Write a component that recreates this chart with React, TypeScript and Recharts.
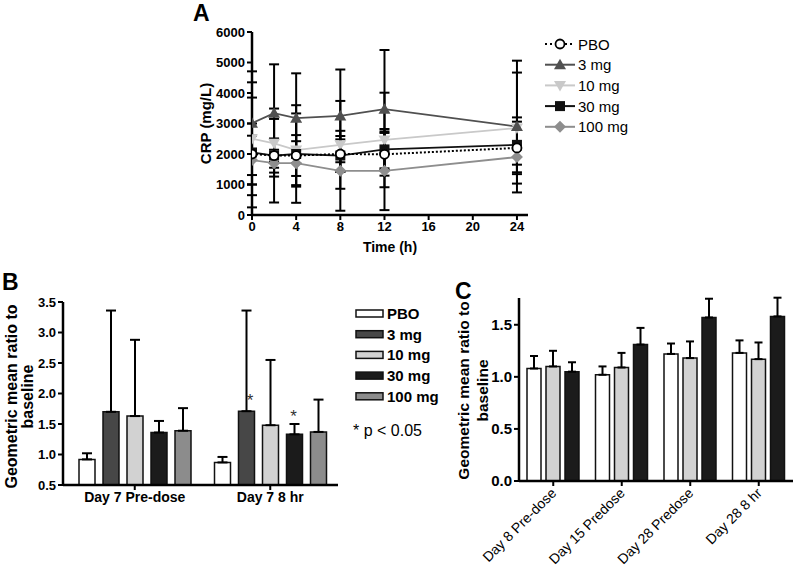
import React from 'react';
import { LineChart, Line, BarChart, Bar, XAxis, YAxis, ErrorBar, LabelList } from 'recharts';

const FONT = '"Liberation Sans", Arial, Helvetica, sans-serif';

// ---- Panel A: CRP (mg/L) over time, mean +/- SD ----
const hours = [0, 2, 4, 8, 12, 24];
const crpPbo = [2000, 1950, 1950, 2000, 1990, 2200];
const sdPbo = [1000, 560, 670, 590, 700, 860];
const crp3 = [3010, 3340, 3175, 3250, 3470, 2900];
const sd3 = [1700, 1600, 1470, 1520, 1940, 2160];
const crp10 = [2500, 2350, 2130, 2300, 2460, 2850];
const sd10 = [1850, 800, 1200, 1440, 1550, 1820];
const crp30 = [2050, 1950, 2000, 1950, 2150, 2300];
const sd30 = [1800, 1540, 1600, 530, 670, 900];
const crp100 = [1800, 1700, 1700, 1450, 1450, 1900];
const sd100 = [800, 440, 720, 1310, 1290, 250];
const ticksHours = [0, 4, 8, 12, 16, 20, 24];
const ticksCrp = [0, 1000, 2000, 3000, 4000, 5000, 6000];

// ---- Panel B: Day 7 ratio to baseline (upper error only) ----
const daysB = ['Day 7 Pre-dose', 'Day 7 8 hr'];
const ratioPboB = [0.92, 0.87];
const upperPboB = [1.02, 0.96];
const ratio3B = [1.70, 1.71];
const upper3B = [3.36, 3.36];
const ratio10B = [1.63, 1.48];
const upper10B = [2.88, 2.55];
const ratio30B = [1.36, 1.33];
const upper30B = [1.55, 1.50];
const ratio100B = [1.39, 1.37];
const upper100B = [1.76, 1.90];
const sig3B = [false, true];
const sig30B = [false, true];
const ticksB = [0.5, 1.0, 1.5, 2.0, 2.5, 3.0, 3.5];

// ---- Panel C: later days ----
const daysC = ['Day 8 Pre-dose', 'Day 15 Predose', 'Day 28 Predose', 'Day 28 8 hr'];
const ratioPboC = [1.08, 1.02, 1.22, 1.23];
const upperPboC = [1.20, 1.10, 1.32, 1.35];
const ratio10C = [1.10, 1.09, 1.18, 1.17];
const upper10C = [1.25, 1.23, 1.34, 1.33];
const ratio30C = [1.05, 1.31, 1.57, 1.58];
const upper30C = [1.14, 1.47, 1.75, 1.76];
const ticksC = [0, 0.5, 1.0, 1.5];

const dataA = hours.map((t, i) => ({
  t,
  pbo: crpPbo[i], pboSd: sdPbo[i],
  mg3: crp3[i], mg3Sd: sd3[i],
  mg10: crp10[i], mg10Sd: sd10[i],
  mg30: crp30[i], mg30Sd: sd30[i],
  mg100: crp100[i], mg100Sd: sd100[i],
}));

const dataB = daysB.map((day, i) => ({
  day,
  pbo: ratioPboB[i], pboErr: [0, upperPboB[i] - ratioPboB[i]],
  mg3: ratio3B[i], mg3Err: [0, upper3B[i] - ratio3B[i]],
  mg10: ratio10B[i], mg10Err: [0, upper10B[i] - ratio10B[i]],
  mg30: ratio30B[i], mg30Err: [0, upper30B[i] - ratio30B[i]],
  mg100: ratio100B[i], mg100Err: [0, upper100B[i] - ratio100B[i]],
}));

const dataC = daysC.map((day, i) => ({
  day,
  pbo: ratioPboC[i], pboErr: [0, upperPboC[i] - ratioPboC[i]],
  mg10: ratio10C[i], mg10Err: [0, upper10C[i] - ratio10C[i]],
  mg30: ratio30C[i], mg30Err: [0, upper30C[i] - ratio30C[i]],
}));

// line styles for panel A
const LINE_A = [
  { key: 'mg10', name: '10 mg', color: '#c9c9c9', shape: 'down' },
  { key: 'mg100', name: '100 mg', color: '#8e8e8e', shape: 'diamond' },
  { key: 'mg3', name: '3 mg', color: '#505050', shape: 'up' },
  { key: 'mg30', name: '30 mg', color: '#111111', shape: 'square' },
  { key: 'pbo', name: 'PBO', color: '#000000', shape: 'circle' },
];
const LEGEND_A = ['pbo', 'mg3', 'mg10', 'mg30', 'mg100'];

const BAR_FILL: Record<string, string> = {
  pbo: '#ffffff',
  mg3: '#474747',
  mg10: '#d2d2d2',
  mg30: '#1b1b1b',
  mg100: '#8c8c8c',
};
const BAR_NAME: Record<string, string> = {
  pbo: 'PBO', mg3: '3 mg', mg10: '10 mg', mg30: '30 mg', mg100: '100 mg',
};

const Marker = ({ cx, cy, shape, fill }: any) => {
  if (cx == null || cy == null) return null;
  switch (shape) {
    case 'circle':
      return <circle cx={cx} cy={cy} r={4.5} fill="#fff" stroke="#000" strokeWidth={1.8} />;
    case 'up':
      return <polygon points={`${cx},${cy - 6} ${cx - 6},${cy + 4.5} ${cx + 6},${cy + 4.5}`} fill={fill} />;
    case 'down':
      return <polygon points={`${cx},${cy + 6} ${cx - 6},${cy - 4.5} ${cx + 6},${cy - 4.5}`} fill={fill} />;
    case 'square':
      return <rect x={cx - 5} y={cy - 5} width={10} height={10} fill={fill} />;
    case 'diamond':
      return <polygon points={`${cx},${cy - 6} ${cx + 6},${cy} ${cx},${cy + 6} ${cx - 6},${cy}`} fill={fill} />;
    default:
      return null;
  }
};

// rotated (possibly two-line) axis title
const RotatedLabel = ({ viewBox, lines, xs, size, dy = 0 }: any) => {
  const cy = viewBox.y + viewBox.height / 2 + dy;
  return (
    <g>
      {lines.map((l: string, i: number) => (
        <text
          key={i}
          x={xs[i]}
          y={cy}
          transform={`rotate(-90, ${xs[i]}, ${cy})`}
          textAnchor="middle"
          dominantBaseline="central"
          fontFamily={FONT}
          fontWeight="bold"
          fontSize={size}
          fill="#000"
        >
          {l}
        </text>
      ))}
    </g>
  );
};

const SlantTick = ({ x, y, payload }: any) => (
  <text
    x={x + 4}
    y={y + 6}
    transform={`rotate(-45, ${x + 4}, ${y + 6})`}
    textAnchor="end"
    fontFamily={FONT}
    fontSize={14}
    fill="#000"
  >
    {payload.value}
  </text>
);

const starLabel = (flags: boolean[], dx: number, dy: number) => (p: any) => {
  const { x, y, width, index } = p;
  if (!flags[index]) return null;
  return (
    <text x={x + width / 2 + dx} y={y - dy} textAnchor="middle" fontFamily={FONT} fontSize={17} fill="#333">
      *
    </text>
  );
};

const axisLine = { stroke: '#000', strokeWidth: 2.5 };
const tickLine = { stroke: '#000', strokeWidth: 2 };

export default function App() {
  return (
    <div style={{ position: 'absolute', left: 0, top: 0, width: 796, height: 573, background: '#fff', fontFamily: FONT }}>
      {/* Panel A */}
      <div style={{ position: 'absolute', left: 190, top: 20 }}>
        <LineChart width={350} height={240} data={dataA} margin={{ top: 12, right: 12, left: 0, bottom: 0 }}>
          <XAxis
            dataKey="t"
            type="number"
            domain={[0, 25]}
            ticks={ticksHours}
            allowDataOverflow
            height={45}
            axisLine={axisLine}
            tickLine={tickLine}
            tickSize={5}
            tick={{ fill: '#000', fontSize: 13, fontWeight: 'bold', fontFamily: FONT }}
            label={{ value: 'Time (h)', position: 'insideBottom', offset: 8, fill: '#000', fontSize: 14, fontWeight: 'bold', fontFamily: FONT }}
          />
          <YAxis
            type="number"
            domain={[0, 6000]}
            ticks={ticksCrp}
            width={62}
            axisLine={axisLine}
            tickLine={tickLine}
            tickSize={5}
            tick={{ fill: '#000', fontSize: 13, fontWeight: 'bold', fontFamily: FONT }}
            label={<RotatedLabel lines={['CRP (mg/L)']} xs={[15]} size={15} />}
          />
          {LINE_A.map((s) => (
            <Line
              key={s.key}
              dataKey={s.key}
              name={s.name}
              stroke={s.color}
              strokeWidth={s.key === 'pbo' ? 2 : 1.8}
              strokeDasharray={s.key === 'pbo' ? '2 2' : undefined}
              isAnimationActive={false}
              dot={(p: any) => <Marker key={`${s.key}-${p.index}`} cx={p.cx} cy={p.cy} shape={s.shape} fill={s.color} />}
              activeDot={false}
            >
              <ErrorBar dataKey={`${s.key}Sd`} width={5} stroke="#000" strokeWidth={2} direction="y" />
            </Line>
          ))}
        </LineChart>
      </div>

      {/* Panel B */}
      <div style={{ position: 'absolute', left: 0, top: 260 }}>
        <BarChart width={345} height={250} data={dataB} margin={{ top: 42, right: 7, left: 0, bottom: 0 }} barSize={16} barGap={8}>
          <XAxis
            dataKey="day"
            height={25}
            padding={{ left: 4, right: 0 }}
            axisLine={axisLine}
            tickLine={tickLine}
            tickSize={5}
            tick={{ fill: '#000', fontSize: 14, fontWeight: 'bold', fontFamily: FONT }}
          />
          <YAxis
            type="number"
            domain={[0.5, 3.5]}
            ticks={ticksB}
            allowDataOverflow
            width={63}
            axisLine={axisLine}
            tickLine={tickLine}
            tickSize={5}
            tickFormatter={(v: number) => v.toFixed(1)}
            tick={{ fill: '#000', fontSize: 13, fontWeight: 'bold', fontFamily: FONT }}
            label={<RotatedLabel lines={['Geometric mean ratio to', 'baseline']} xs={[11, 27]} size={16} dy={3} />}
          />
          {['pbo', 'mg3', 'mg10', 'mg30', 'mg100'].map((k) => (
            <Bar key={k} dataKey={k} name={BAR_NAME[k]} fill={BAR_FILL[k]} stroke="#111" strokeWidth={1.5} isAnimationActive={false}>
              <ErrorBar dataKey={`${k}Err`} width={5} stroke="#000" strokeWidth={2} direction="y" />
              {k === 'mg3' && <LabelList dataKey={k} content={starLabel(sig3B, 3.5, 5)} />}
              {k === 'mg30' && <LabelList dataKey={k} content={starLabel(sig30B, -1, 12)} />}
            </Bar>
          ))}
        </BarChart>
      </div>

      {/* Panel C */}
      <div style={{ position: 'absolute', left: 450, top: 280 }}>
        <BarChart width={346} height={293} data={dataC} margin={{ top: 18, right: 3, left: 0, bottom: 0 }} barSize={14} barGap={5}>
          <XAxis
            dataKey="day"
            height={92}
            interval={0}
            axisLine={axisLine}
            tickLine={tickLine}
            tickSize={5}
            tick={<SlantTick />}
          />
          <YAxis
            type="number"
            domain={[0, 1.757]}
            ticks={ticksC}
            allowDataOverflow
            width={69}
            axisLine={axisLine}
            tickLine={tickLine}
            tickSize={5}
            tickFormatter={(v: number) => v.toFixed(1)}
            tick={{ fill: '#000', fontSize: 15, fontWeight: 'bold', fontFamily: FONT }}
            label={<RotatedLabel lines={['Geometric mean ratio to', 'baseline']} xs={[13, 32]} size={15.5} dy={1} />}
          />
          {['pbo', 'mg10', 'mg30'].map((k) => (
            <Bar key={k} dataKey={k} name={BAR_NAME[k]} fill={BAR_FILL[k]} stroke="#111" strokeWidth={1.5} isAnimationActive={false}>
              <ErrorBar dataKey={`${k}Err`} width={4} stroke="#000" strokeWidth={2} direction="y" />
            </Bar>
          ))}
        </BarChart>
      </div>

      {/* Panel letters, legends and note */}
      <svg width={796} height={573} style={{ position: 'absolute', left: 0, top: 0, pointerEvents: 'none' }}>
        <g fontFamily={FONT} fontWeight="bold" fontSize={23} fill="#000">
          <text x={193} y={21}>A</text>
          <text x={2} y={290}>B</text>
          <text x={455} y={299}>C</text>
        </g>

        {LEGEND_A.map((k, i) => {
          const s = LINE_A.find((l) => l.key === k)!;
          const y = 44 + i * 20.7;
          return (
            <g key={k}>
              <line
                x1={545}
                x2={575}
                y1={y}
                y2={y}
                stroke={s.color}
                strokeWidth={2}
                strokeDasharray={k === 'pbo' ? '2 3' : undefined}
              />
              <Marker cx={560} cy={y} shape={s.shape} fill={s.color} />
              <text x={578} y={y} dominantBaseline="central" fontFamily={FONT} fontSize={15} fill="#000">
                {s.name}
              </text>
            </g>
          );
        })}

        {['pbo', 'mg3', 'mg10', 'mg30', 'mg100'].map((k, i) => {
          const y = 313.5 + i * 20.7;
          return (
            <g key={k}>
              <rect x={356} y={y - 3.5} width={27} height={7} fill={BAR_FILL[k]} stroke="#111" strokeWidth={1.5} />
              <text x={387} y={y} dominantBaseline="central" fontFamily={FONT} fontWeight="bold" fontSize={15} fill="#000">
                {BAR_NAME[k]}
              </text>
            </g>
          );
        })}
        <text x={353} y={430} dominantBaseline="central" fontFamily={FONT} fontSize={16} fill="#000">
          * p &lt; 0.05
        </text>
      </svg>
    </div>
  );
}
